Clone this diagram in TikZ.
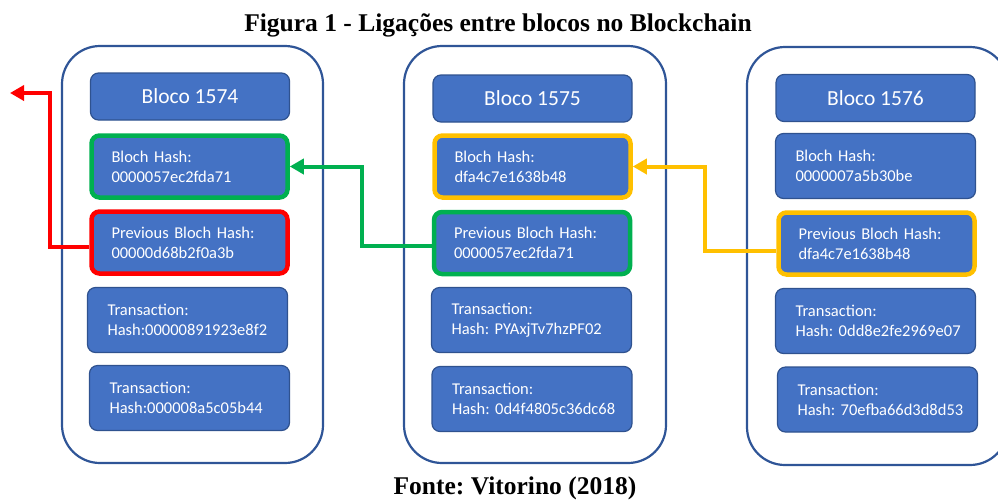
\documentclass[tikz,border=0pt]{standalone}
\usepackage{fontspec}
\setmainfont{Liberation Serif}
\newfontfamily\boxfont{Carlito}
\usetikzlibrary{arrows.meta}
\frenchspacing

\definecolor{boxblue}{HTML}{4472C4}
\definecolor{boxedge}{HTML}{2F528F}
\definecolor{frameblue}{HTML}{2F5597}
\definecolor{linkgreen}{HTML}{00B050}
\definecolor{linkred}{HTML}{FF0000}
\definecolor{linkgold}{HTML}{FFC000}

% two unbreakable lines of a field
\newcommand\fieldlines[2]{\mbox{#1}\\\mbox{#2}}

\tikzset{
  chainframe/.style={draw=frameblue, line width=2.2pt, rounded corners=38pt},
  field/.style={draw=boxedge, line width=1.2pt, fill=boxblue, rounded corners=8pt,
    text=white, font=\boxfont\fontsize{16.5}{20}\selectfont,
    text width=160pt, align=left, inner xsep=20pt, inner ysep=0pt,
    minimum height=65pt},
  hot/.style={line width=4.5pt, text width=156pt, minimum height=62pt},
  headbox/.style={draw=boxedge, line width=1.2pt, fill=boxblue, rounded corners=8pt,
    text=white, font=\boxfont\fontsize{21.5}{24}\selectfont,
    minimum width=199pt, minimum height=47pt, inner sep=0pt, align=center},
  link/.style={line width=4pt, -{Triangle[length=14pt,width=15pt]}},
  caption/.style={font=\bfseries\fontsize{25.5}{28}\selectfont, inner sep=0pt, anchor=base}
}

\begin{document}
\begin{tikzpicture}[x=1pt, y=-1pt]
\useasboundingbox (0,0) rectangle (998,499);
\clip (0,0) rectangle (998,499);

% captions
\node[caption] (title) at (498,31.5) {Figura 1 - Ligações entre blocos no Blockchain};
\node[caption] (source) at (515,494.5) {Fonte: Vitorino (2018)};

% block frames
\draw[chainframe] (62,46) rectangle (323,463);
\draw[chainframe] (404,46) rectangle (666,463);
\draw[chainframe] (747,47) rectangle (1008,465);

% block 1574
\node[headbox] (t1) at (190,96.5) {Bloco 1574};
\node[field, hot, draw=linkgreen] (h1) at (189.5,166.5) {\fieldlines{Bloch Hash:}{0000057ec2fda71}};
\node[field, hot, draw=linkred] (p1) at (189.5,242.5) {\fieldlines{Previous Bloch Hash:}{00000d68b2f0a3b}};
\node[field] (x1a) at (187.5,320) {\fieldlines{Transaction:}{Hash:00000891923e8f2}};
\node[field] (x1b) at (189.5,398) {\fieldlines{Transaction:}{Hash:000008a5c05b44}};

% block 1575
\node[headbox] (t2) at (532.5,98.5) {Bloco 1575};
\node[field, hot, draw=linkgold] (h2) at (532.5,166.5) {\fieldlines{Bloch Hash:}{dfa4c7e1638b48}};
\node[field, hot, draw=linkgreen] (p2) at (532,243) {\fieldlines{Previous Bloch Hash:}{0000057ec2fda71}};
\node[field] (x2a) at (531.5,320) {\fieldlines{Transaction:}{Hash: PYAxjTv7hzPF02}};
\node[field] (x2b) at (532,399) {\fieldlines{Transaction:}{Hash: 0d4f4805c36dc68}};

% block 1576
\node[headbox] (t3) at (875.5,98) {Bloco 1576};
\node[field] (h3) at (875.5,166) {\fieldlines{Bloch Hash:}{0000007a5b30be}};
\node[field, hot, draw=linkgold] (p3) at (876.5,243.5) {\fieldlines{Previous Bloch Hash:}{dfa4c7e1638b48}};
\node[field] (x3a) at (875.5,321) {\fieldlines{Transaction:}{Hash: 0dd8e2fe2969e07}};
\node[field] (x3b) at (877.5,399.5) {\fieldlines{Transaction:}{Hash: 70efba66d3d8d53}};

% links from each previous hash to the hash of the block before
\coordinate (older) at (10,93);
\draw[link, linkred] ([yshift=-4pt]p1.west) -- ++(-39,0) |- (older);
\draw[link, linkgreen] ([yshift=-3pt]p2.west) -- ++(-70,0) |- (h1.east);
\draw[link, linkgold] ([yshift=-7pt]p3.west) -- ++(-71,0) |- (h2.east);
\end{tikzpicture}
\end{document}
